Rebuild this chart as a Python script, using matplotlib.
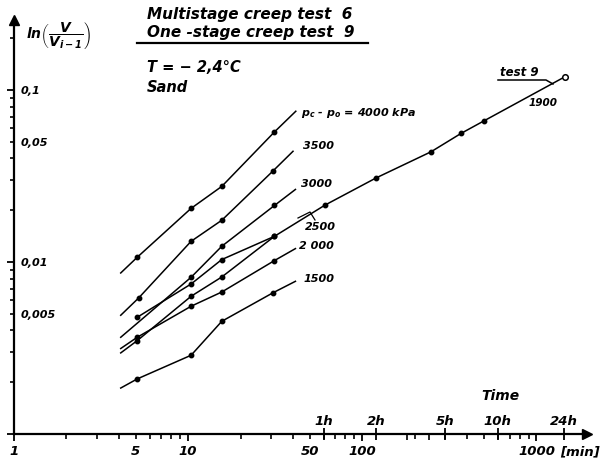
import matplotlib
matplotlib.use('Agg')
import matplotlib.pyplot as plt
from matplotlib.ticker import FixedLocator, FixedFormatter, FuncFormatter
from matplotlib.lines import Line2D

plt.rcParams['font.family'] = 'DejaVu Sans'
plt.rcParams['font.weight'] = 'bold'
plt.rcParams['font.style'] = 'italic'
plt.rcParams['mathtext.fontset'] = 'custom'
plt.rcParams['mathtext.it'] = 'DejaVu Sans:italic:bold'
plt.rcParams['mathtext.rm'] = 'DejaVu Sans:italic:bold'

# multistage creep test 6 - one line per stage (pc - po in kPa), time in min
t_4000 = [4.1, 5.1, 10.4, 15.6, 31.3, 41.5]
v_4000 = [0.00863, 0.01065, 0.0205, 0.0275, 0.0570, 0.0752]
t_3500 = [4.1, 5.2, 10.4, 15.6, 30.6, 40.0]
v_3500 = [0.0049, 0.00618, 0.01319, 0.01748, 0.0337, 0.0440]
t_3000 = [4.1, 10.4, 15.6, 31.3, 41.3]
v_3000 = [0.00365, 0.00815, 0.01234, 0.0213, 0.0264]
t_2500 = [5.1, 10.4, 15.6, 31.3]
v_2500 = [0.00477, 0.00745, 0.01033, 0.0141]
t_2000 = [4.1, 5.1, 10.4, 15.6, 31.3, 41.3]
v_2000 = [0.00314, 0.00365, 0.00553, 0.00669, 0.01019, 0.01196]
t_1500 = [4.1, 5.1, 10.4, 15.6, 30.6, 41.3]
v_1500 = [0.00185, 0.00209, 0.00287, 0.00452, 0.00661, 0.00772]

# one-stage creep test 9
t_test9 = [4.1, 5.1, 10.4, 15.6, 31.3, 61, 120, 248, 369, 498, 1450]
v_test9 = [0.00296, 0.00349, 0.00632, 0.00818, 0.0141, 0.0214, 0.0308,
           0.0437, 0.0559, 0.066, 0.119]

x_major = [1, 10, 100, 1000]
x_major_lab = ['1', '10', '100', '1000']
x_minor = [m * d for d in [1, 10, 100] for m in range(2, 10)]
hours = [60, 120, 300, 600, 1440]
hours_lab = ['1h', '2h', '5h', '10h', '24h']
hours_minor = [180, 240]
y_major = [0.001, 0.01, 0.1]
y_major_lab = ['', '0,01', '0,1']
y_minor = [m * d for d in [0.001, 0.01, 0.1] for m in range(2, 10) if m * d < 0.25]

W, H = 608, 465
def P(x, y):
    return (x / W, 1 - y / H)

fig = plt.figure(figsize=(6.08, 4.65), dpi=100)
ax = fig.add_axes([14 / W, 1 - 434 / H, 573 / W, 414 / H])
ax.set_xscale('log')
ax.set_yscale('log')
ax.set_xlim(1, 1950)
ax.set_ylim(0.001, 0.255)

for t, v, mk in [(t_4000, v_4000, [1, 2, 3, 4]),
                 (t_3500, v_3500, [1, 2, 3, 4]),
                 (t_3000, v_3000, [1, 2, 3]),
                 (t_2500, v_2500, [0, 1, 2, 3]),
                 (t_2000, v_2000, [1, 2, 3, 4]),
                 (t_1500, v_1500, [1, 2, 3, 4]),
                 (t_test9, v_test9, list(range(1, 10)))]:
    ax.plot(t, v, color='k', lw=1.1, marker='o', ms=3.2, markevery=mk)
ax.plot(t_test9[-1:], v_test9[-1:], 'o', mfc='white', mec='k', ms=4, mew=1.1)

for s in ['top', 'right']:
    ax.spines[s].set_visible(False)
for s in ['left', 'bottom']:
    ax.spines[s].set_linewidth(1.6)
ax.plot(1, 0, marker='>', color='k', ms=7, transform=ax.transAxes, clip_on=False)
ax.plot(0, 1, marker='^', color='k', ms=7, transform=ax.transAxes, clip_on=False)

ax.xaxis.set_major_locator(FixedLocator(x_major))
ax.xaxis.set_major_formatter(FixedFormatter(x_major_lab))
ax.xaxis.set_minor_locator(FixedLocator(x_minor))
ax.xaxis.set_minor_formatter(FuncFormatter(lambda v, p: ('%g' % v) if v in (5, 50) else ''))
ax.tick_params(axis='x', which='major', length=5, width=1.3, labelsize=9.5, pad=3)
ax.tick_params(axis='x', which='minor', length=3.5, width=1.2, labelsize=9.5, pad=4.5)

ax.yaxis.set_major_locator(FixedLocator(y_major))
ax.yaxis.set_major_formatter(FixedFormatter(y_major_lab))
ax.yaxis.set_minor_locator(FixedLocator(y_minor))
ax.yaxis.set_minor_formatter(FuncFormatter(lambda v, p: '0,05' if abs(v - 0.05) < 1e-9 else ('0,005' if abs(v - 0.005) < 1e-9 else '')))
ax.tick_params(axis='y', which='major', length=5, width=1.3, labelsize=8, pad=-10)
ax.tick_params(axis='y', which='minor', length=3, width=1.2, labelsize=8, pad=-7.5)
for lab in ax.get_yticklabels(which='both'):
    lab.set_horizontalalignment('left')

# hour marks above the time axis
sec = ax.secondary_xaxis(0.0)
sec.set_xticks(hours, labels=hours_lab)
sec.set_xticks(hours_minor, minor=True)
sec.xaxis.set_ticks_position('top')
sec.tick_params(which='major', direction='inout', length=9, width=1.3, labelsize=9.5, pad=0)
sec.tick_params(which='minor', direction='in', length=4, width=1.2)
sec.spines['bottom'].set_visible(False)
sec.spines['top'].set_visible(False)

# texts
fig.text(*P(147, 15), 'Multistage creep test  6', fontsize=11, va='center')
fig.text(*P(147, 32), 'One -stage creep test  9', fontsize=11, va='center')
fig.add_artist(Line2D([137 / W, 368 / W], [1 - 43.5 / H] * 2, color='k', lw=1.6))
fig.text(*P(147, 68), 'T = \u2212 2,4\u00b0C', fontsize=10.5, va='center')
fig.text(*P(147, 87), 'Sand', fontsize=10.5, va='center')
fig.text(*P(26, 35), r'$ln\left(\dfrac{V}{V_{i-1}}\right)$', fontsize=10, va='center')

fig.text(*P(301, 112.7), r'$p_c$ - $p_o$ = 4000 kPa', fontsize=8, va='center')
fig.text(*P(303, 146), '3500', fontsize=8, va='center')
fig.text(*P(301, 184.3), '3000', fontsize=8, va='center')
fig.text(*P(305, 227), '2500', fontsize=8, va='center')
fig.text(*P(299, 245.5), '2 000', fontsize=8, va='center')
fig.text(*P(304, 279), '1500', fontsize=8, va='center')
fig.add_artist(Line2D([298 / W, 310 / W, 315 / W], [1 - 218 / H, 1 - 212 / H, 1 - 220 / H],
                      color='k', lw=0.9))

fig.text(*P(500, 73), 'test 9', fontsize=8.5, va='center')
fig.add_artist(Line2D([498 / W, 546 / W, 553 / W], [1 - 80 / H, 1 - 80 / H, 1 - 84 / H],
                      color='k', lw=1.1))
fig.text(*P(529, 103), '1900', fontsize=7.5, va='center')

fig.text(*P(481, 395.5), 'Time', fontsize=10, va='center')
fig.text(*P(560, 452), '[min]', fontsize=9.5, va='center')

fig.savefig('out.png', dpi=100)
